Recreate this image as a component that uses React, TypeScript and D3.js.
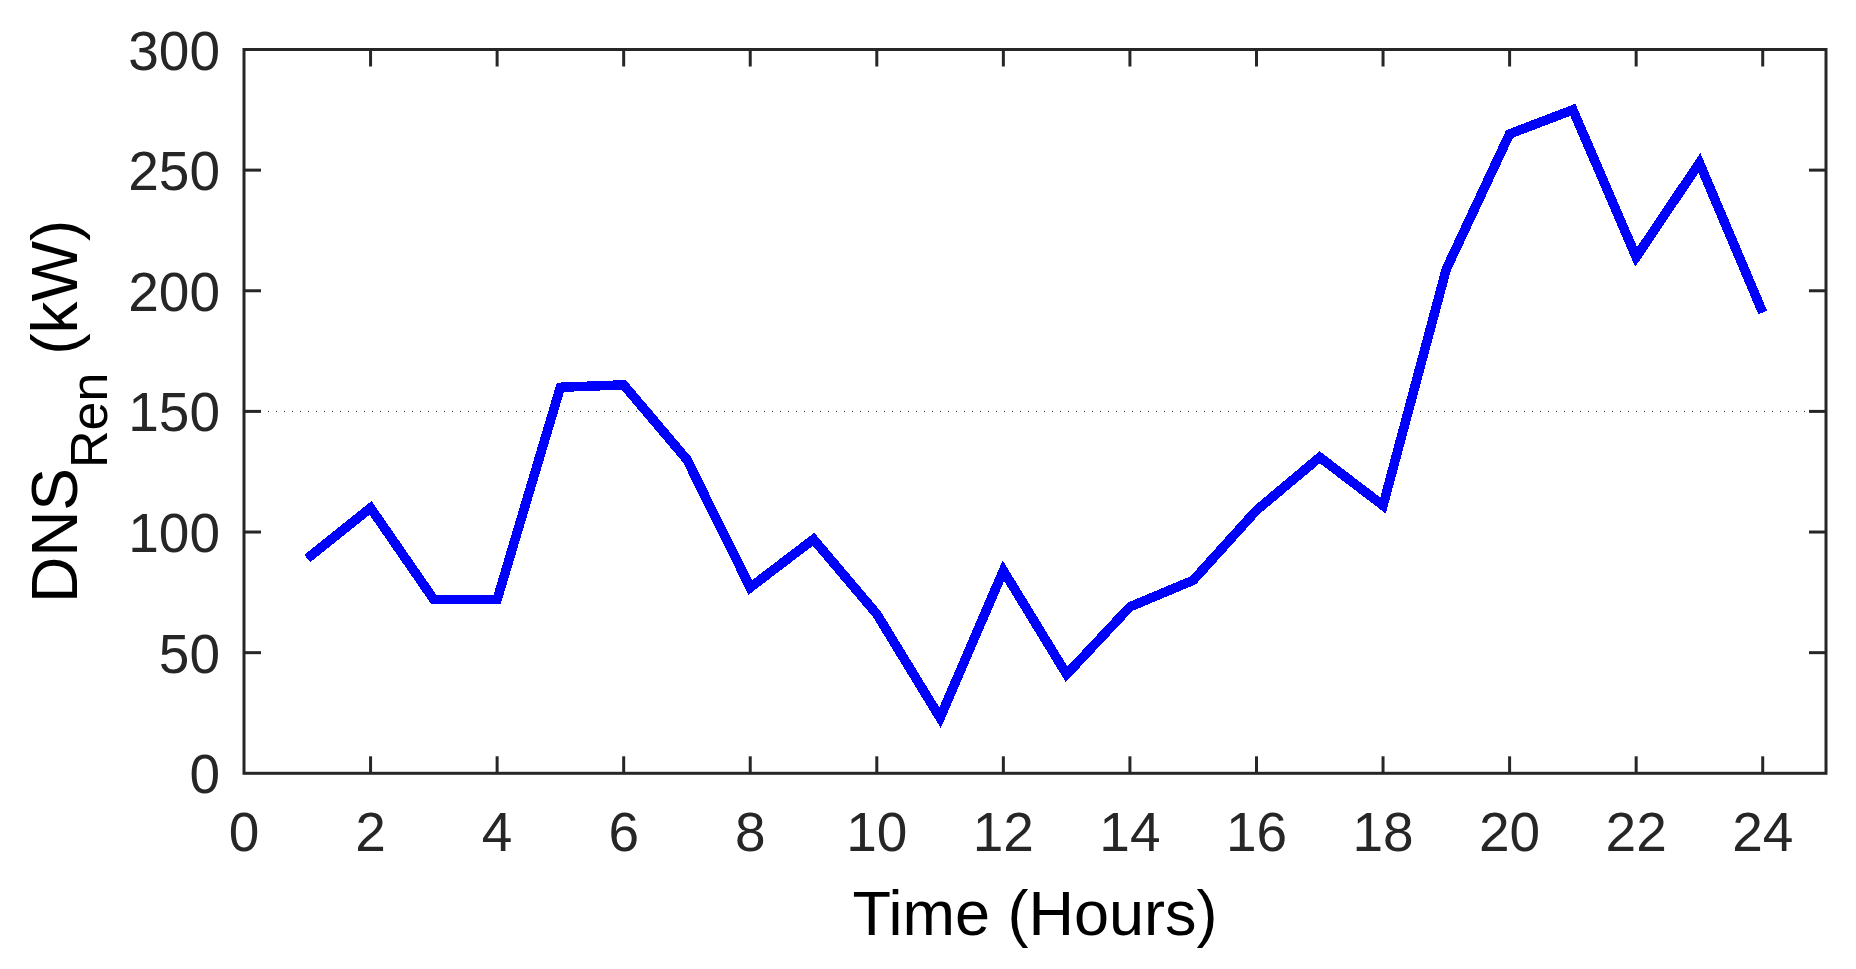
import React from "react";
import * as d3 from "d3";

const hours = [1, 2, 3, 4, 5, 6, 7, 8, 9, 10, 11, 12, 13, 14, 15, 16, 17, 18, 19, 20, 21, 22, 23, 24];
const dnsRen = [89, 110, 72, 72, 160, 161, 130, 77, 97, 66, 23, 84, 41, 69, 80, 109, 131, 111, 209, 265, 275, 214, 253, 191];
const xTicks = [0, 2, 4, 6, 8, 10, 12, 14, 16, 18, 20, 22, 24];
const yTicks = [0, 50, 100, 150, 200, 250, 300];
const gridValues = [150];

const W = 1856;
const H = 969;
const left = 244;
const right = 1826;
const top = 49.5;
const bottom = 773.3;
const axisColor = "#262626";
const font = "'Liberation Sans', Arial, Helvetica, sans-serif";

export default function App() {
  const x = d3.scaleLinear().domain([0, 25]).range([left, right]);
  const y = d3.scaleLinear().domain([0, 300]).range([bottom, top]);
  const line = d3
    .line<number>()
    .x((_, i) => x(hours[i]))
    .y((d) => y(d));
  const tickLen = 17;

  return (
    <svg
      width={W}
      height={H}
      style={{ position: "absolute", left: 0, top: 0, background: "#fff" }}
      fontFamily={font}
    >
      <rect x={0} y={0} width={W} height={H} fill="#fff" />
      {gridValues.map((g) => (
        <line
          key={g}
          x1={left}
          x2={right}
          y1={y(g)}
          y2={y(g)}
          stroke={axisColor}
          strokeWidth={1}
          strokeDasharray="1,7"
        />
      ))}
      <path
        d={line(dnsRen) || ""}
        fill="none"
        stroke="#0000ff"
        strokeWidth={9.5}
        strokeLinejoin="miter"
        strokeLinecap="butt"
        shapeRendering="crispEdges"
      />
      {/* box */}
      <rect
        x={left}
        y={top}
        width={right - left}
        height={bottom - top}
        fill="none"
        stroke={axisColor}
        strokeWidth={3}
      />
      {/* x ticks */}
      {xTicks.map((t) => (
        <g key={"x" + t}>
          {t > 0 && (
            <>
              <line x1={x(t)} x2={x(t)} y1={bottom} y2={bottom - tickLen} stroke={axisColor} strokeWidth={3} />
              <line x1={x(t)} x2={x(t)} y1={top} y2={top + tickLen} stroke={axisColor} strokeWidth={3} />
            </>
          )}
          <text
            x={x(t)}
            y={851}
            textAnchor="middle"
            fontSize={55}
            fill={axisColor}
          >
            {t}
          </text>
        </g>
      ))}
      {/* y ticks */}
      {yTicks.map((t) => (
        <g key={"y" + t}>
          {t > 0 && t < 300 && (
            <>
              <line x1={left} x2={left + tickLen} y1={y(t)} y2={y(t)} stroke={axisColor} strokeWidth={3} />
              <line x1={right} x2={right - tickLen} y1={y(t)} y2={y(t)} stroke={axisColor} strokeWidth={3} />
            </>
          )}
          <text
            x={220}
            y={y(t) + 20}
            textAnchor="end"
            fontSize={55}
            fill={axisColor}
          >
            {t}
          </text>
        </g>
      ))}
      {/* x label */}
      <text x={(left + right) / 2} y={935} textAnchor="middle" fontSize={63} fill="#000">
        Time (Hours)
      </text>
      {/* y label */}
      <text
        transform={`translate(77, ${(top + bottom) / 2}) rotate(-90)`}
        textAnchor="middle"
        fontSize={64}
        fill="#000"
      >
        <tspan>DNS</tspan>
        <tspan fontSize={52} dy={30}>Ren</tspan>
        <tspan dy={-30}> (kW)</tspan>
      </text>
    </svg>
  );
}
